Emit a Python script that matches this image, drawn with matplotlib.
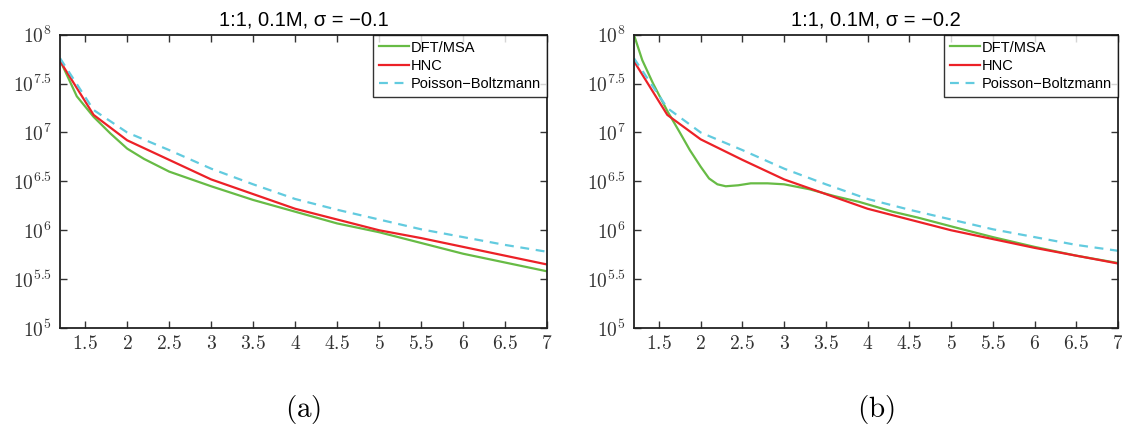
import numpy as np
import matplotlib
matplotlib.use('Agg')
import matplotlib.pyplot as plt
from matplotlib.ticker import FixedLocator, FixedFormatter

plt.rcParams['mathtext.fontset'] = 'cm'
plt.rcParams['font.family'] = ['Liberation Sans', 'DejaVu Sans']

# values, y given as log10
x_dft_a = [1.2, 1.4, 1.6, 1.8, 2.0, 2.2, 2.5, 3.0, 3.5, 4.0, 4.5, 5.0, 5.5, 6.0, 6.5, 7.0]
logy_dft_a = [7.74, 7.37, 7.16, 6.99, 6.835, 6.73, 6.60, 6.45, 6.31, 6.19, 6.07, 5.98, 5.87, 5.76, 5.67, 5.58]

x_dft_b = [1.2, 1.3, 1.43, 1.6, 1.75, 1.87, 2.0, 2.1, 2.2, 2.3, 2.45, 2.6, 2.8, 3.0, 3.3, 3.6,
           3.9, 4.3, 4.6, 5.0, 5.5, 6.0, 6.5, 7.0]
logy_dft_b = [8.0, 7.74, 7.50, 7.22, 7.0, 6.82, 6.65, 6.53, 6.47, 6.45, 6.46, 6.48, 6.48, 6.47, 6.42, 6.35,
              6.29, 6.19, 6.13, 6.04, 5.93, 5.83, 5.74, 5.665]

x_ref = [1.2, 1.6, 2.0, 2.5, 3.0, 3.5, 4.0, 4.5, 5.0, 5.5, 6.0, 6.5, 7.0]
logy_hnc_a = [7.73, 7.18, 6.92, 6.72, 6.52, 6.37, 6.22, 6.11, 6.0, 5.92, 5.83, 5.74, 5.65]
logy_hnc_b = [7.73, 7.18, 6.93, 6.72, 6.52, 6.37, 6.22, 6.11, 6.0, 5.91, 5.82, 5.74, 5.66]
logy_pb_a = [7.76, 7.23, 7.0, 6.82, 6.63, 6.47, 6.32, 6.21, 6.11, 6.01, 5.93, 5.85, 5.78]
logy_pb_b = [7.76, 7.25, 7.0, 6.82, 6.63, 6.47, 6.32, 6.21, 6.11, 6.01, 5.93, 5.85, 5.79]

titles = ['1:1, 0.1M, σ = −0.1', '1:1, 0.1M, σ = −0.2']
panel_labels = ['(a)', '(b)']
xticks = [1.5, 2, 2.5, 3, 3.5, 4, 4.5, 5, 5.5, 6, 6.5, 7]
xticklabels = ['1.5', '2', '2.5', '3', '3.5', '4', '4.5', '5', '5.5', '6', '6.5', '7']
yexp = [5, 5.5, 6, 6.5, 7, 7.5, 8]
yticklabels = ['5', '5.5', '6', '6.5', '7', '7.5', '8']

green = '#67bb45'
red = '#ec2127'
cyan = '#62cbdf'

fig = plt.figure(figsize=(11.22, 4.3), dpi=100)
ax1 = fig.add_axes([0.0535, 0.2372, 0.434, 0.682])
ax2 = fig.add_axes([0.565, 0.2372, 0.4314, 0.682])

panels = [
    (ax1, x_dft_a, logy_dft_a, logy_hnc_a, logy_pb_a),
    (ax2, x_dft_b, logy_dft_b, logy_hnc_b, logy_pb_b),
]

for i, (ax, xd, yd, yh, yp) in enumerate(panels):
    ax.plot(xd, 10 ** np.array(yd), c=green, lw=1.6, label='DFT/MSA')
    ax.plot(x_ref, 10 ** np.array(yh), c=red, lw=1.6, label='HNC')
    ax.plot(x_ref, 10 ** np.array(yp), c=cyan, lw=1.6, ls=(0, (4, 3)), label='Poisson\u2212Boltzmann')

    ax.set_yscale('log')
    ax.set_xlim(1.2, 7)
    ax.set_ylim(1e5, 1e8)

    ax.xaxis.set_major_locator(FixedLocator(xticks))
    ax.xaxis.set_major_formatter(FixedFormatter(['$' + t + '$' for t in xticklabels]))
    ax.yaxis.set_major_locator(FixedLocator([10 ** e for e in yexp]))
    ax.yaxis.set_major_formatter(FixedFormatter(['$10^{' + t + '}$' for t in yticklabels]))
    ax.yaxis.set_minor_locator(FixedLocator([]))

    ax.tick_params(which='both', direction='in', top=True, right=True, length=5,
                   width=1.0, color='#333333', labelsize=14, labelcolor='#333333')
    ax.tick_params(axis='x', pad=5)
    ax.tick_params(axis='y', pad=6)
    for s in ax.spines.values():
        s.set_linewidth(1.3)
        s.set_color('#222222')

    ax.set_title(titles[i], fontsize=14.5, pad=7)

    leg = ax.legend(loc='upper right', borderaxespad=0, fancybox=False, fontsize=10.5,
                    handlelength=2.05, handletextpad=0.15, labelspacing=0.3, borderpad=0.4)
    leg.get_frame().set_edgecolor('black')
    leg.get_frame().set_linewidth(1.0)

    pos = ax.get_position()
    fig.text(pos.x0 + pos.width / 2, 0.047, r'$\mathrm{' + panel_labels[i] + '}$',
             ha='center', va='center', fontsize=21)

plt.savefig('out.png', dpi=100)
